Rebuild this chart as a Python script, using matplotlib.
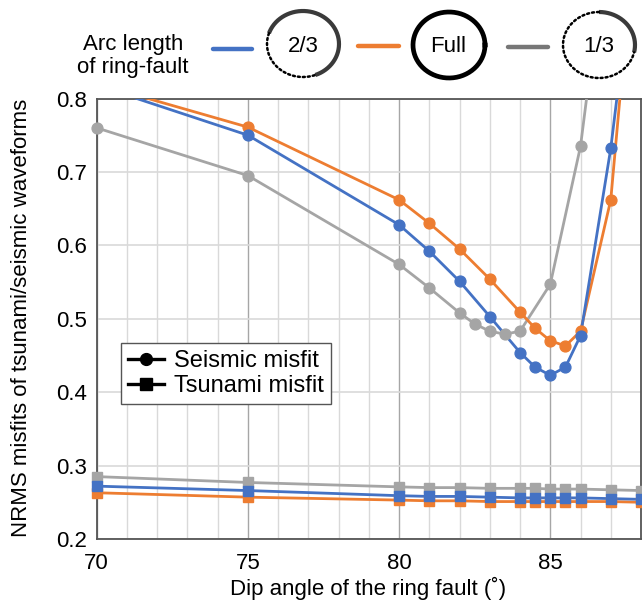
import numpy as np
import matplotlib
matplotlib.use("Agg")
import matplotlib.pyplot as plt
from matplotlib.lines import Line2D

plt.rcParams['font.family'] = ['Liberation Sans', 'DejaVu Sans']
plt.rcParams['font.size'] = 16

# dip angles (deg)
dip_main = [70, 75, 80, 81, 82, 83, 84, 84.5, 85, 85.5, 86, 87, 88]
dip_third = [70, 75, 80, 81, 82, 82.5, 83, 83.5, 84, 85, 86, 87, 88]

# seismic misfit
seis_23 = [0.818, 0.750, 0.628, 0.592, 0.551, 0.503, 0.454, 0.434, 0.423, 0.434, 0.477, 0.732, 1.07]
seis_full = [0.820, 0.761, 0.662, 0.630, 0.595, 0.554, 0.509, 0.487, 0.470, 0.463, 0.483, 0.662, 1.12]
seis_13 = [0.760, 0.695, 0.574, 0.542, 0.508, 0.493, 0.483, 0.479, 0.483, 0.547, 0.735, 1.06, 1.30]

# tsunami misfit
tsu_23 = [0.272, 0.266, 0.259, 0.258, 0.258, 0.257, 0.256, 0.256, 0.256, 0.256, 0.256, 0.255, 0.254]
tsu_full = [0.263, 0.257, 0.253, 0.252, 0.252, 0.251, 0.251, 0.251, 0.251, 0.251, 0.251, 0.251, 0.250]
tsu_13 = [0.285, 0.277, 0.271, 0.270, 0.270, 0.269, 0.269, 0.269, 0.268, 0.268, 0.268, 0.267, 0.266]

blue = '#4472C4'
orange = '#ED7D31'
gray = '#A5A5A5'

W, H = 642, 606
fig = plt.figure(figsize=(W/100, H/100), dpi=100)
ax = fig.add_axes([96.7/W, 1-539/H, (641-96.7)/W, (539-98.5)/H])

ymax = 0.8
def draw(x, y, c, mk):
    x = np.array(x); y = np.array(y)
    ax.plot(x, y, color=c, lw=2.0, zorder=3)
    m = y <= ymax + 1e-9
    ax.plot(x[m], y[m], ls='none', marker=mk, ms=7.8 if mk == 'o' else 7.2,
            color=c, zorder=4, clip_on=False)

draw(dip_third, seis_13, gray, 'o')
draw(dip_main, seis_full, orange, 'o')
draw(dip_main, seis_23, blue, 'o')
draw(dip_main, tsu_13, gray, 's')
draw(dip_main, tsu_full, orange, 's')
draw(dip_main, tsu_23, blue, 's')

ax.set_xlim(70, 88)
ax.set_ylim(0.2, 0.8)
ax.set_xticks([70, 75, 80, 85])
ax.set_xticks(np.arange(70, 89, 1), minor=True)
ax.set_yticks(np.arange(0.2, 0.81, 0.1))
ax.set_yticklabels(['%.1f' % v for v in np.arange(0.2, 0.81, 0.1)])
ax.grid(which='minor', axis='x', color='#d9d9d9', lw=1)
ax.grid(which='major', axis='x', color='#a6a6a6', lw=1)
ax.grid(which='major', axis='y', color='#d9d9d9', lw=1.2)
ax.set_axisbelow(True)
ax.tick_params(which='both', length=0, labelsize=16)
ax.tick_params(axis='x', pad=10)
ax.tick_params(axis='y', pad=7)
for s in ax.spines.values():
    s.set_color('#555555')
    s.set_linewidth(1.3)

fig.text(22/W, 1-318/H, 'NRMS misfits of tsunami/seismic waveforms',
         rotation=90, ha='center', va='center', fontsize=16)
fig.text(368/W, 1-588/H, 'Dip angle of the ring fault (˚)',
         ha='center', va='center', fontsize=16)

handles = [Line2D([], [], color='black', lw=2.4, marker='o', ms=8.5),
           Line2D([], [], color='black', lw=2.4, marker='s', ms=8.5)]
leg = ax.legend(handles, ['Seismic misfit', 'Tsunami misfit'],
                loc='upper left', bbox_to_anchor=((121-96.7)/544.3, (539-343)/440.5),
                borderaxespad=0, fancybox=False, framealpha=1,
                edgecolor='#555555', handlelength=1.5, handletextpad=0.45,
                labelspacing=0.12, borderpad=0.3, fontsize=17)
leg.get_frame().set_linewidth(1.0)
leg.set_zorder(6)

# top legend drawn in pixel space
ov = fig.add_axes([0, 0, 1, 1])
ov.set_xlim(0, W)
ov.set_ylim(H, 0)
ov.set_axis_off()
ov.patch.set_alpha(0)

ov.text(133, 56, 'Arc length\nof ring-fault', ha='center', va='center',
        fontsize=16, linespacing=1.15)

def seg(x0, x1, y, c):
    ov.plot([x0, x1], [y, y], color=c, lw=3.2, solid_capstyle='round')

def arc(cx, cy, t0, t1, **kw):
    t = np.radians(np.linspace(t0, t1, 200))
    ov.plot(cx + 36*np.cos(t), cy - 33*np.sin(t), **kw)

seg(213, 252, 49, blue)
arc(303, 44, -70, 161, color='#3a3a3a', lw=3.0, solid_capstyle='butt')
arc(303, 44, 161, 290, color='black', lw=1.8, ls=(0, (0.8, 1.2)), dash_capstyle='round')
ov.text(303, 47, '2/3', ha='center', va='center', fontsize=16)

seg(358, 399, 46, orange)
arc(449, 45, 0, 360, color='black', lw=3.4)
ov.text(448, 46, 'Full', ha='center', va='center', fontsize=16)

seg(508, 548, 47, '#777777')
arc(599, 45, -13, 90, color='#3a3a3a', lw=3.0, solid_capstyle='butt')
arc(599, 45, 90, 347, color='black', lw=1.8, ls=(0, (0.8, 1.2)), dash_capstyle='round')
ov.text(599, 47, '1/3', ha='center', va='center', fontsize=16)

fig.savefig('out.png', dpi=100)
